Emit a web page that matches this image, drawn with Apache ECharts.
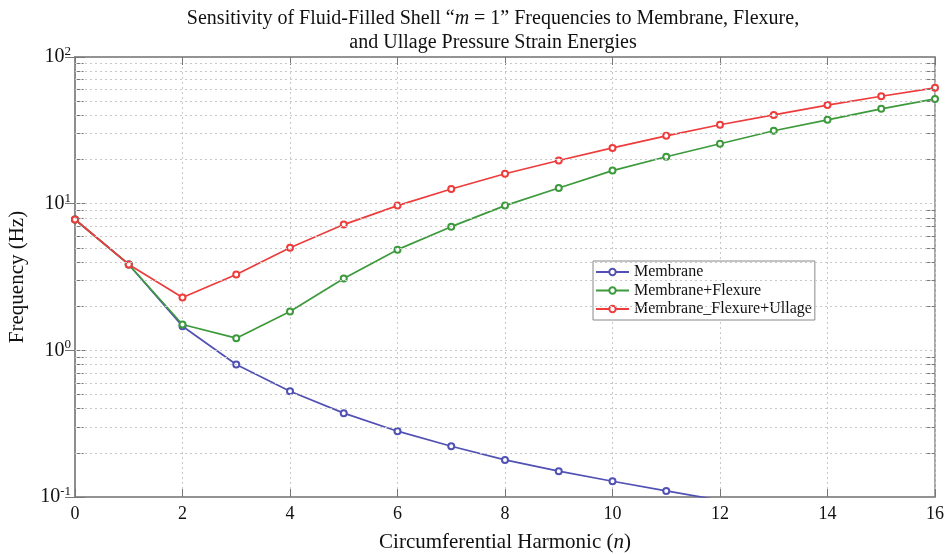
<!DOCTYPE html>
<html><head><meta charset="utf-8">
<script src="https://cdn.jsdelivr.net/npm/echarts@6/dist/echarts.min.js"></script>
<style>html,body{margin:0;padding:0;background:#fff}#c{width:950px;height:554px}</style>
</head><body><div id="c"></div>
<script>
const harmonics = [0,1,2,3,4,5,6,7,8,9,10,11,12,13,14,15,16];
const membrane = [7.8,3.85,1.46,0.80,0.526,0.373,0.281,0.222,0.179,0.150,0.128,0.110,0.095];
const membraneFlexure = [7.8,3.85,1.50,1.21,1.84,3.09,4.86,6.97,9.7,12.8,16.8,20.9,25.6,31.4,37.3,44.3,51.8];
const membraneFlexureUllage = [7.8,3.85,2.29,3.29,5.0,7.2,9.7,12.6,16.0,19.7,24.0,29.0,34.5,40.3,47.0,54.0,61.6];
const seriesNames = ['Membrane','Membrane+Flexure','Membrane_Flexure+Ullage'];
const seriesColors = ['#5151b4','#3c9a3c','#ee3c3c'];
const minorValues = [];
[0.1,1,10].forEach(d=>{for(let k=2;k<=9;k++)minorValues.push(+(d*k).toPrecision(3));});

const serif = '"Liberation Serif","DejaVu Serif",serif';
const gridGrey = '#c8c8c8';
const frameGrey = '#8c8c8c';

function pairs(arr){return arr.map((v,i)=>[harmonics[i],v]);}

const gridLineMarks = {
  silent:true, symbol:'none', label:{show:false}, animation:false,
  lineStyle:{color:gridGrey,type:[2,3],width:1},
  data: minorValues.concat([1,10]).map(v=>({yAxis:v}))
};
const tickLen = 0.16;
const tickMarks = {
  silent:true, symbol:'none', label:{show:false}, animation:false,
  lineStyle:{color:'#777',type:'solid',width:1},
  data: [].concat(
    minorValues.map(v=>[{coord:[0,v]},{coord:[tickLen,v]}]),
    minorValues.map(v=>[{coord:[16-tickLen,v]},{coord:[16,v]}])
  )
};

const series = [membrane, membraneFlexure, membraneFlexureUllage].map((arr,i)=>({
  name: seriesNames[i], type:'line', data: pairs(arr), clip:true,
  symbol:'emptyCircle', symbolSize:6, showSymbol:true,
  itemStyle:{color:seriesColors[i], borderWidth:1.5},
  lineStyle:{color:seriesColors[i], width:1.7},
  emphasis:{disabled:true}, animation:false
}));
series.unshift({type:'line', data:[], markLine: gridLineMarks, silent:true});
series.unshift({type:'line', data:[], markLine: tickMarks, silent:true});

const chart = echarts.init(document.getElementById('c'), null, {renderer:'canvas'});
chart.setOption({
  backgroundColor:'#fff',
  animation:false,
  title:{
    text:'Sensitivity of Fluid-Filled Shell \u201c{i|m} = 1\u201d Frequencies to Membrane, Flexure,\nand Ullage Pressure Strain Energies',
    left:488, top:2, textAlign:'center',
    textStyle:{fontFamily:serif, fontSize:20, fontWeight:'normal', color:'#111', lineHeight:24,
      rich:{i:{fontFamily:serif, fontStyle:'italic', fontSize:20, color:'#111'}}}
  },
  legend:{
    data: seriesNames, orient:'vertical', left:593, top:261,
    backgroundColor:'#fff', borderColor:'#888', borderWidth:1,
    padding:[3,3,3,2], itemGap:2.5, itemWidth:33, itemHeight:8,
    textStyle:{fontFamily:serif, fontSize:16, color:'#111', lineHeight:16}
  },
  grid:{left:75, right:15, top:57, bottom:57, show:true, borderColor:frameGrey, borderWidth:1.5, backgroundColor:'transparent', outerBoundsMode:'none', containLabel:false},
  xAxis:[{
    type:'value', min:0, max:16, interval:2,
    name:'Circumferential Harmonic ({i|n})', nameLocation:'middle', nameGap:35,
    nameTextStyle:{fontFamily:serif, fontSize:21, color:'#111', rich:{i:{fontFamily:serif,fontStyle:'italic',fontSize:21,color:'#111'}}},
    axisLine:{show:true, lineStyle:{color:frameGrey, width:1.5}},
    axisTick:{show:true, inside:true, length:8, lineStyle:{color:'#777'}},
    axisLabel:{fontFamily:serif, fontSize:18, color:'#111', margin:8},
    splitLine:{show:true, lineStyle:{color:gridGrey, type:[2,3]}}
  },{
    type:'value', position:'top', min:0, max:16, interval:2,
    axisLine:{show:true, lineStyle:{color:frameGrey, width:1.5}},
    axisTick:{show:true, inside:true, length:8, lineStyle:{color:'#777'}},
    axisLabel:{show:false}, splitLine:{show:false}
  }],
  yAxis:[{
    type:'log', logBase:10, min:0.1, max:100,
    name:'Frequency (Hz)', nameLocation:'middle', nameGap:47,
    nameTextStyle:{fontFamily:serif, fontSize:21, color:'#111'},
    axisLine:{show:true, lineStyle:{color:frameGrey, width:1.5}},
    axisTick:{show:true, inside:true, length:10, lineStyle:{color:'#777'}},
    axisLabel:{fontFamily:serif, color:'#111', margin:4,
      formatter:v=>'{b|10}{s|'+Math.round(Math.log10(v))+'}',
      rich:{b:{fontFamily:serif,fontSize:20,color:'#111'},s:{fontFamily:serif,fontSize:13,color:'#111',verticalAlign:'top',padding:[0,0,11,0]}}},
    splitLine:{show:false}
  },{
    type:'log', logBase:10, min:0.1, max:100, position:'right',
    axisLine:{show:true, lineStyle:{color:frameGrey, width:1.5}},
    axisTick:{show:true, inside:true, length:10, lineStyle:{color:'#777'}},
    axisLabel:{show:false}, splitLine:{show:false}
  }],
  series: series
});
</script></body></html>
